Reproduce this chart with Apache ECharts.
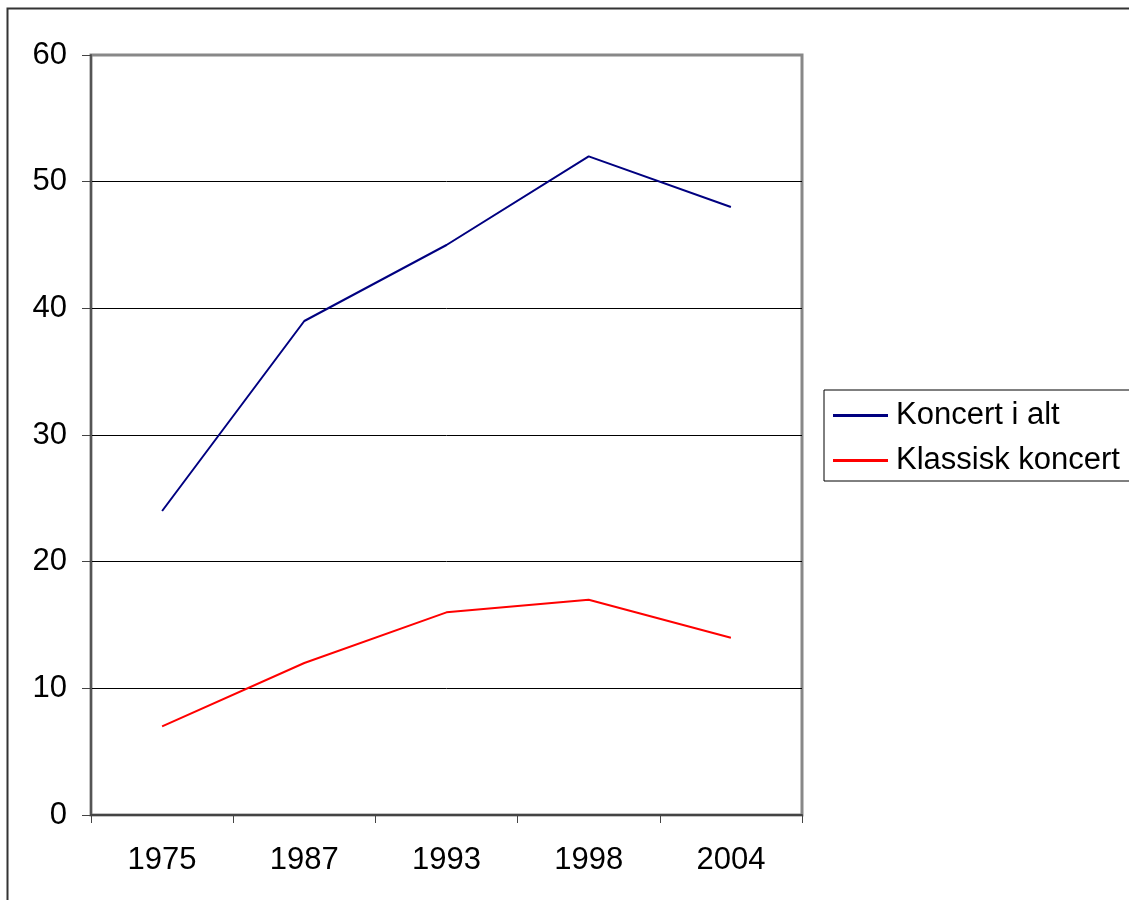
<!DOCTYPE html>
<html>
<head>
<meta charset="utf-8">
<script src="https://cdn.jsdelivr.net/npm/echarts@6/dist/echarts.min.js"></script>
<style>
  html, body { margin: 0; padding: 0; background: #fff; }
  #chart { width: 1129px; height: 900px; }
</style>
</head>
<body>
<div id="chart"></div>
<script>
const years = ['1975', '1987', '1993', '1998', '2004']
const koncertIAlt = [24, 39, 45, 52, 48]
const klassiskKoncert = [7, 12, 16, 17, 14]

const chart = echarts.init(document.getElementById('chart'))
const font = 'Liberation Sans, Arial, sans-serif'

chart.setOption({
  animation: false,
  textStyle: { fontFamily: font },
  graphic: [
    {
      // outer chart border
      type: 'rect',
      shape: { x: 7.5, y: 8.5, width: 1140, height: 900 },
      style: { fill: 'none', stroke: '#333', lineWidth: 2 },
      silent: true,
    },
  ],
  grid: {
    left: 91, top: 55, width: 711, height: 760,
    show: true, borderColor: '#888', borderWidth: 3,
  },
  legend: {
    orient: 'vertical',
    left: 824, top: 390,
    padding: [10, 60, 5, 9],
    itemGap: 14,
    itemWidth: 55,
    itemHeight: 3,
    icon: 'rect',
    borderColor: '#000', borderWidth: 1,
    textStyle: { fontSize: 31, color: '#000', fontFamily: font, padding: [0, 0, 0, 3] },
    data: ['Koncert i alt', 'Klassisk koncert'],
  },
  xAxis: {
    type: 'category',
    data: years,
    boundaryGap: true,
    axisLine: { lineStyle: { color: '#444', width: 2 } },
    axisTick: { show: true, length: 8, lineStyle: { color: '#444' } },
    axisLabel: { fontSize: 31, color: '#000', margin: 30, fontFamily: font },
    splitLine: { show: false },
  },
  yAxis: {
    type: 'value',
    min: 0, max: 60, interval: 10,
    axisLine: { show: true, lineStyle: { color: '#555', width: 2 } },
    axisTick: { show: true, length: 9, lineStyle: { color: '#444' } },
    axisLabel: { fontSize: 31, color: '#000', margin: 24, fontFamily: font },
    splitLine: { showMaxLine: false, lineStyle: { color: '#000', width: 1 } },
  },
  series: [
    {
      name: 'Koncert i alt',
      type: 'line',
      data: koncertIAlt,
      showSymbol: false,
      symbol: 'none',
      itemStyle: { color: '#000080' },
      lineStyle: { color: '#000080', width: 2 },
    },
    {
      name: 'Klassisk koncert',
      type: 'line',
      data: klassiskKoncert,
      showSymbol: false,
      symbol: 'none',
      itemStyle: { color: '#ff0000' },
      lineStyle: { color: '#ff0000', width: 2 },
    },
  ],
})
</script>
</body>
</html>
